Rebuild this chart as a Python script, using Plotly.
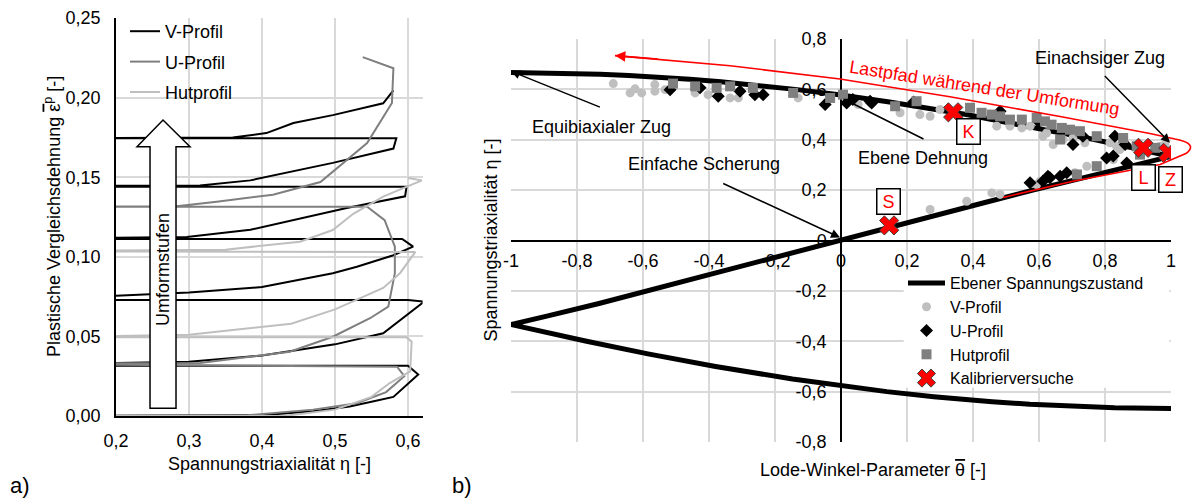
import plotly.graph_objects as go

W, H = 1193, 498
FONT = "Liberation Sans, Arial, sans-serif"

# ---------------- (a) equivalent plastic strain vs. stress triaxiality ----------------
v_eta = [0.10, 0.40, 0.47, 0.52, 0.55, 0.58, 0.614, 0.600, 0.10,
         0.10, 0.30, 0.40, 0.50, 0.566, 0.622, 0.600, 0.10,
         0.10, 0.30, 0.40, 0.497, 0.53, 0.58, 0.607, 0.592, 0.10,
         0.10, 0.297, 0.384, 0.516, 0.596, 0.598, 0.10,
         0.10, 0.315, 0.384, 0.497, 0.58, 0.584, 0.10,
         0.10, 0.36, 0.406, 0.443, 0.497, 0.566, 0.58]
v_eps = [0.000, 0.0005, 0.003, 0.006, 0.009, 0.012, 0.026, 0.0315, 0.0315,
         0.0325, 0.034, 0.038, 0.045, 0.052, 0.0718, 0.0729, 0.0729,
         0.0735, 0.0775, 0.081, 0.0897, 0.0938, 0.101, 0.1064, 0.1112, 0.1112,
         0.1115, 0.1124, 0.117, 0.1307, 0.138, 0.144, 0.144,
         0.1445, 0.1448, 0.148, 0.159, 0.168, 0.1745, 0.1745,
         0.1748, 0.1750, 0.1777, 0.184, 0.189, 0.1964, 0.2045]

u_eta = [0.10, 0.38, 0.47, 0.53, 0.57, 0.595, 0.585, 0.10,
         0.10, 0.315, 0.438, 0.497, 0.548, 0.573, 0.582, 0.582, 0.568, 0.544, 0.10,
         0.10, 0.283, 0.338, 0.415, 0.48, 0.544, 0.578, 0.58, 0.538]
u_eps = [0.0, 0.0005, 0.004, 0.008, 0.015, 0.025, 0.031, 0.0325,
         0.033, 0.0333, 0.0404, 0.0498, 0.0614, 0.0687, 0.0897, 0.1064, 0.123, 0.1315, 0.1315,
         0.1318, 0.1318, 0.1346, 0.139, 0.147, 0.1714, 0.1966, 0.2184, 0.2254]

hut_eta = [0.10, 0.43, 0.50, 0.55, 0.575, 0.603, 0.605, 0.598, 0.10,
           0.10, 0.30, 0.36, 0.44, 0.50, 0.534, 0.566, 0.589, 0.61, 0.10,
           0.10, 0.35, 0.452, 0.497, 0.525, 0.566, 0.619, 0.600]
hut_eps = [0.0, 0.0, 0.004, 0.012, 0.0207, 0.028, 0.0467, 0.0494, 0.0494,
           0.0497, 0.051, 0.054, 0.058, 0.067, 0.074, 0.0804, 0.0897, 0.103, 0.1035,
           0.1038, 0.1045, 0.1095, 0.1168, 0.127, 0.1378, 0.148, 0.1495]

a_xticks = [0.2, 0.3, 0.4, 0.5, 0.6]
a_xtext = ["0,2", "0,3", "0,4", "0,5", "0,6"]
a_yticks = [0.0, 0.05, 0.10, 0.15, 0.20, 0.25]
a_ytext = ["0,00", "0,05", "0,10", "0,15", "0,20", "0,25"]

# ---------------- (b) stress triaxiality vs. Lode angle parameter ----------------
ps_theta = [-1.0, -0.829, -0.73, -0.643, -0.572, -0.458, -0.364, -0.281, -0.139, 0.0,
            0.147, 0.380, 0.585, 0.771, 0.910, 0.961, 1.0,
            0.956, 0.8915, 0.7334, 0.5815, 0.4332, 0.2875, 0.1434, 0.0,
            -0.1434, -0.2875, -0.4332, -0.5815, -0.7334, -0.8915, -0.956, -1.0,
            -0.961, -0.910, -0.771, -0.585, -0.380, -0.147, 0.0,
            0.139, 0.281, 0.364, 0.458, 0.572, 0.643, 0.730, 0.829, 1.0]
ps_eta = [0.6667, 0.664, 0.66, 0.655, 0.65, 0.64, 0.63, 0.62, 0.60, 0.5774,
          0.55, 0.50, 0.45, 0.40, 0.36, 0.345, 0.3333,
          0.32, 0.30, 0.25, 0.20, 0.15, 0.10, 0.05, 0.0,
          -0.05, -0.10, -0.15, -0.20, -0.25, -0.30, -0.32, -0.3333,
          -0.345, -0.36, -0.40, -0.45, -0.50, -0.55, -0.5774,
          -0.60, -0.62, -0.63, -0.64, -0.65, -0.655, -0.66, -0.664, -0.6667]

vp_theta = [-0.69, -0.639, -0.624, -0.604, -0.564, -0.564, -0.533, -0.442, -0.403, -0.336,
            -0.311, -0.13, 0.052, 0.179, 0.239, 0.27, 0.30, 0.472, 0.512, 0.548,
            0.573, 0.612, 0.623, 0.643, 0.673, 0.703, 0.739, 0.775, 0.815, 0.835,
            0.845, 0.967, 0.982, 1.0, 0.27, 0.381, 0.457, 0.482, 0.593, 0.603,
            0.709, 0.745, 0.825]
vp_eta = [0.623, 0.586, 0.602, 0.586, 0.619, 0.593, 0.599, 0.586, 0.579, 0.566,
          0.566, 0.566, 0.54, 0.507, 0.50, 0.493, 0.52, 0.454, 0.454, 0.447,
          0.454, 0.414, 0.427, 0.381, 0.401, 0.407, 0.388, 0.414, 0.388, 0.374,
          0.361, 0.374, 0.381, 0.36, 0.123, 0.156, 0.189, 0.183, 0.222, 0.235,
          0.269, 0.295, 0.321]

up_theta = [-0.518, -0.427, -0.372, -0.306, -0.261, -0.236, -0.048, 0.017, 0.036, 0.088,
            0.093, 0.22, 0.482, 0.60, 0.703, 0.733, 0.83, 0.861, 0.573, 0.612,
            0.627, 0.633, 0.664, 0.684, 0.805, 0.825, 0.866]
up_eta = [0.599, 0.606, 0.573, 0.593, 0.579, 0.579, 0.540, 0.546, 0.56, 0.553,
          0.546, 0.55, 0.513, 0.47, 0.381, 0.414, 0.414, 0.381, 0.229, 0.235,
          0.255, 0.249, 0.255, 0.269, 0.328, 0.335, 0.308]

hp_theta = [-0.509, -0.442, -0.377, -0.336, -0.267, -0.145, -0.033, 0.006, 0.164, 0.229,
            0.391, 0.426, 0.457, 0.482, 0.512, 0.548, 0.593, 0.618, 0.638, 0.669,
            0.694, 0.724, 0.664, 0.775, 0.855, 0.896, 0.906, 0.952, 0.775, 0.715]
hp_eta = [0.623, 0.612, 0.606, 0.612, 0.606, 0.586, 0.566, 0.579, 0.533, 0.553,
          0.527, 0.507, 0.50, 0.493, 0.48, 0.48, 0.487, 0.473, 0.46, 0.447,
          0.44, 0.434, 0.401, 0.414, 0.407, 0.374, 0.341, 0.368, 0.295, 0.262]

cal_names = ["S", "K", "L", "Z"]
cal_theta = [0.146, 0.34, 0.916, 0.992]
cal_eta = [0.06, 0.509, 0.368, 0.348]

b_xticks = [-1, -0.8, -0.6, -0.4, -0.2, 0, 0.2, 0.4, 0.6, 0.8, 1]
b_xtext = ["-1", "-0,8", "-0,6", "-0,4", "-0,2", "0", "0,2", "0,4", "0,6", "0,8", "1"]
b_yticks = [-0.8, -0.6, -0.4, -0.2, 0, 0.2, 0.4, 0.6, 0.8]
b_ytext = ["-0,8", "-0,6", "-0,4", "-0,2", "0", "0,2", "0,4", "0,6", "0,8"]

# ---------------- layout geometry ----------------
XA = [116 / W, 422.6 / W]
YA = [1 - 416 / H, 1 - 18 / H]
XB = [511 / W, 1171 / W]
YB = [1 - 442 / H, 1 - 39 / H]


def bx(t):
    return XB[0] + (t + 1.0) / 2.0 * (XB[1] - XB[0])


def by(e):
    return YB[0] + (e + 0.8) / 1.6 * (YB[1] - YB[0])


def bar(sym):
    return "<span style='text-decoration:overline'>" + sym + "</span>"


fig = go.Figure()

# panel (a) lines
for name, xs, ys, col in [("V-Profil", v_eta, v_eps, "#000000"),
                          ("U-Profil", u_eta, u_eps, "#7f7f7f"),
                          ("Hutprofil", hut_eta, hut_eps, "#bfbfbf")]:
    fig.add_trace(go.Scatter(x=xs, y=ys, mode="lines", name=name,
                             line=dict(color=col, width=2),
                             xaxis="x", yaxis="y", legend="legend",
                             legendgroup=name))

# panel (b)
fig.add_trace(go.Scatter(x=ps_theta, y=ps_eta, mode="lines", name="Ebener Spannungszustand",
                         line=dict(color="#000000", width=5),
                         xaxis="x2", yaxis="y2", legend="legend2"))
fig.add_trace(go.Scatter(x=vp_theta, y=vp_eta, mode="markers", name="V-Profil",
                         marker=dict(symbol="circle", size=9, color="#bfbfbf"),
                         xaxis="x2", yaxis="y2", legend="legend2"))
fig.add_trace(go.Scatter(x=up_theta, y=up_eta, mode="markers", name="U-Profil",
                         marker=dict(symbol="diamond", size=10, color="#000000"),
                         xaxis="x2", yaxis="y2", legend="legend2"))
fig.add_trace(go.Scatter(x=hp_theta, y=hp_eta, mode="markers", name="Hutprofil",
                         marker=dict(symbol="square", size=10, color="#7f7f7f"),
                         xaxis="x2", yaxis="y2", legend="legend2"))
fig.add_trace(go.Scatter(x=cal_theta, y=cal_eta, mode="markers", name="Kalibrierversuche",
                         marker=dict(symbol="x", size=17, color="#ff0000",
                                     line=dict(color="#404040", width=1)),
                         xaxis="x2", yaxis="y2", legend="legend2"))

tickfont = dict(family=FONT, size=18, color="#000000")
grid = "#d9d9d9"

fig.update_layout(
    width=W, height=H, autosize=False,
    margin=dict(l=0, r=0, t=0, b=0, autoexpand=False),
    paper_bgcolor="white", plot_bgcolor="white",
    font=dict(family=FONT, size=18, color="#000000"),
    xaxis=dict(domain=XA, range=[0.2, 0.62], anchor="y",
               tickmode="array", tickvals=a_xticks, ticktext=a_xtext,
               showgrid=True, gridcolor=grid, gridwidth=1.5,
               showline=True, linecolor="#000000", linewidth=1.5,
               zeroline=False, ticks="", ticklabelstandoff=8,
               tickfont=tickfont, layer="below traces"),
    yaxis=dict(domain=YA, range=[0, 0.25], anchor="x",
               tickmode="array", tickvals=a_yticks, ticktext=a_ytext,
               showgrid=True, gridcolor=grid, gridwidth=1.5,
               showline=True, linecolor="#000000", linewidth=1.5,
               zeroline=False, ticks="", ticklabelstandoff=10,
               tickfont=tickfont, layer="below traces"),
    xaxis2=dict(domain=XB, range=[-1, 1], anchor="free", position=(YB[0] + YB[1]) / 2,
                tickmode="array", tickvals=b_xticks, ticktext=b_xtext,
                showgrid=True, gridcolor=grid, gridwidth=1.5,
                showline=True, linecolor="#000000", linewidth=1.5,
                zeroline=False, ticks="", ticklabelstandoff=4,
                tickfont=tickfont, layer="below traces"),
    yaxis2=dict(domain=YB, range=[-0.8, 0.8], anchor="free", position=(XB[0] + XB[1]) / 2,
                tickmode="array", tickvals=b_yticks, ticktext=b_ytext,
                showgrid=True, gridcolor=grid, gridwidth=1.5,
                showline=True, linecolor="#000000", linewidth=1.5,
                zeroline=False, ticks="", ticklabelstandoff=10,
                tickfont=tickfont, layer="below traces"),
    legend=dict(x=125 / W, y=1 - 13 / H, xanchor="left", yanchor="top",
                bgcolor="rgba(0,0,0,0)", font=dict(family=FONT, size=18),
                tracegroupgap=4, itemwidth=30),
    legend2=dict(x=903 / W, y=1 - 266 / H, xanchor="left", yanchor="top",
                 bgcolor="rgba(0,0,0,0)", font=dict(family=FONT, size=16),
                 itemwidth=37),
)

ann = []
centered = dict(showarrow=False, xanchor="center", yanchor="middle")
# axis titles
ann.append(dict(text="Spannungstriaxialität η [-]", x=(XA[0] + XA[1]) / 2, y=1 - 464 / H,
                xref="paper", yref="paper", font=dict(size=18), **centered))
ann.append(dict(text="Plastische Vergleichsdehnung " + bar("ε") + "<sup>p</sup> [-]",
                x=52 / W, y=(YA[0] + YA[1]) / 2, xref="paper", yref="paper",
                textangle=-90, font=dict(size=18), **centered))
ann.append(dict(text="Lode-Winkel-Parameter " + bar("θ") + " [-]", x=873 / W, y=1 - 470 / H,
                xref="paper", yref="paper", font=dict(size=18), **centered))
ann.append(dict(text="Spannungstriaxialität η [-]", x=490 / W, y=(YB[0] + YB[1]) / 2,
                xref="paper", yref="paper", textangle=-90,
                font=dict(size=18), **centered))
ann.append(dict(text="a)", x=20 / W, y=1 - 485 / H, xref="paper", yref="paper",
                font=dict(size=22), **centered))
ann.append(dict(text="b)", x=462 / W, y=1 - 485 / H, xref="paper", yref="paper",
                font=dict(size=22), **centered))

# forming stage arrow label
ann.append(dict(text="Umformstufen", x=0.2644, y=0.0917, xref="x", yref="y",
                textangle=-90, font=dict(size=18), **centered))

# load case annotations with arrows
arrow_style = dict(showarrow=True, arrowhead=2, arrowsize=1.2, arrowwidth=1.5,
                   arrowcolor="#000000", xref="x2", yref="y2", axref="x2", ayref="y2",
                   text="", standoff=0)
ann.append(dict(x=-1.0, y=0.672, ax=-0.726, ay=0.527, **arrow_style))
ann.append(dict(x=-0.003, y=0.012, ax=-0.3615, ay=0.229, **arrow_style))
ann.append(dict(x=0.006, y=0.563, ax=0.2545, ay=0.40, **arrow_style))
ann.append(dict(x=0.997, y=0.388, ax=0.795, ay=0.659, **arrow_style))
for txt, tx, ty in [("Equibiaxialer Zug", -0.727, 0.452),
                    ("Einfache Scherung", -0.415, 0.302),
                    ("Ebene Dehnung", 0.249, 0.329),
                    ("Einachsiger Zug", 0.785, 0.726)]:
    ann.append(dict(text=txt, x=tx, y=ty, xref="x2", yref="y2",
                    font=dict(size=18), **centered))

# labelled calibration tests
for lab, lx, ly in [("S", 0.145, 0.153), ("K", 0.385, 0.433),
                    ("L", 0.918, 0.252), ("Z", 0.999, 0.244)]:
    ann.append(dict(text=lab, x=lx, y=ly, xref="x2", yref="y2",
                    font=dict(size=18, color="#ff0000"), bgcolor="white",
                    bordercolor="#000000", borderwidth=1.5, borderpad=1,
                    width=20, height=22, **centered))

# load path
ann.append(dict(text="Lastpfad während der Umformung", x=0.436, y=0.607, xref="x2",
                yref="y2", textangle=9,
                font=dict(size=18, color="#ff0000"), **centered))
ann.append(dict(x=-0.685, y=0.734, ax=-0.55, ay=0.720, xref="x2", yref="y2",
                axref="x2", ayref="y2", text="", showarrow=True, arrowhead=2,
                arrowsize=1.3, arrowwidth=1.6, arrowcolor="#ff0000", standoff=0))

fig.update_layout(annotations=ann)

# white backing of the legend in (b): hides the grid but stays beneath the data
shapes = [dict(type="rect", xref="x2", yref="y2", x0=0.19, x1=0.995, y0=-0.585, y1=-0.11,
               fillcolor="white", line=dict(width=0), layer="between")]

# red loop of the load path (paper coordinates so it may leave the plot area)
loop_pts = [(-0.685, 0.734), (-0.336, 0.694), (-0.003, 0.641), (0.330, 0.571),
            (0.664, 0.492), (0.936, 0.425), (1.012, 0.403)]
path = "M {:.5f},{:.5f}".format(bx(loop_pts[0][0]), by(loop_pts[0][1]))
for t, e in loop_pts[1:]:
    path += " L {:.5f},{:.5f}".format(bx(t), by(e))
path += " Q {:.5f},{:.5f} {:.5f},{:.5f}".format(bx(1.085), by(0.385), bx(1.045), by(0.345))
for t, e in [(0.967, 0.302), (0.703, 0.235), (0.491, 0.171)]:
    path += " L {:.5f},{:.5f}".format(bx(t), by(e))

shapes.append(dict(type="path", path=path, xref="paper", yref="paper",
                   line=dict(color="#ff0000", width=1.6), layer="above"))

# block arrow "Umformstufen"
ax0, ax1 = 0.2466, 0.2822
hx0, hx1, apex = 0.2288, 0.3014, 0.2644
yb, yt, ya = 0.0048, 0.1692, 0.1859
arrow_path = ("M {a},{b} L {c},{b} L {c},{t} L {h1},{t} L {p},{ap} L {h0},{t} L {a},{t} Z"
              .format(a=ax0, b=yb, c=ax1, t=yt, h1=hx1, p=apex, ap=ya, h0=hx0))
shapes.append(dict(type="path", path=arrow_path, xref="x", yref="y",
                   fillcolor="white", line=dict(color="#000000", width=1.5), layer="above"))

fig.update_layout(shapes=shapes)

fig.write_html("out.html")
